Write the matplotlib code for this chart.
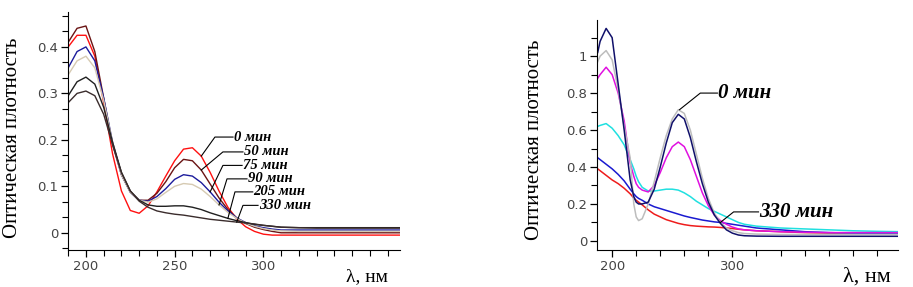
import numpy as np
import matplotlib
matplotlib.use("Agg")
import matplotlib.pyplot as plt
from matplotlib.ticker import MultipleLocator, AutoMinorLocator, FuncFormatter

# левая панель: спектры во времени
wl_a = [190, 195, 200, 205, 210, 215, 220, 225, 230, 235, 240, 245, 250, 255,
        260, 265, 270, 275, 280, 285, 290, 295, 300, 305, 310, 320, 330, 340,
        350, 360, 370, 377]
a_0 = [0.40, 0.425, 0.425, 0.38, 0.28, 0.17, 0.09, 0.048, 0.042, 0.058, 0.088,
       0.122, 0.155, 0.18, 0.183, 0.165, 0.13, 0.09, 0.055, 0.03, 0.013, 0.003,
       -0.003, -0.005, -0.005, -0.005, -0.005, -0.005, -0.005, -0.005, -0.005, -0.005]
a_50 = [0.41, 0.44, 0.445, 0.39, 0.29, 0.19, 0.125, 0.088, 0.07, 0.07, 0.085,
        0.11, 0.14, 0.158, 0.155, 0.135, 0.105, 0.075, 0.05, 0.032, 0.02, 0.012,
        0.007, 0.003, 0.0, 0.0, 0.0, 0.0, 0.0, 0.0, 0.0, 0.0]
a_75 = [0.355, 0.39, 0.40, 0.37, 0.29, 0.195, 0.125, 0.087, 0.07, 0.068, 0.078,
        0.095, 0.115, 0.125, 0.122, 0.108, 0.088, 0.066, 0.047, 0.032, 0.022,
        0.015, 0.011, 0.008, 0.006, 0.006, 0.006, 0.006, 0.006, 0.006, 0.006, 0.006]
a_90 = [0.34, 0.37, 0.38, 0.355, 0.285, 0.195, 0.125, 0.087, 0.07, 0.066, 0.073,
        0.087, 0.10, 0.106, 0.104, 0.094, 0.078, 0.06, 0.044, 0.031, 0.021, 0.014,
        0.009, 0.006, 0.004, 0.003, 0.003, 0.003, 0.003, 0.003, 0.003, 0.003]
a_205 = [0.295, 0.325, 0.335, 0.32, 0.27, 0.195, 0.13, 0.09, 0.07, 0.06, 0.057,
         0.057, 0.058, 0.058, 0.055, 0.05, 0.043, 0.037, 0.031, 0.026, 0.022,
         0.018, 0.016, 0.014, 0.012, 0.011, 0.011, 0.011, 0.011, 0.011, 0.011, 0.011]
a_330 = [0.28, 0.30, 0.305, 0.295, 0.255, 0.19, 0.13, 0.09, 0.068, 0.055, 0.047,
         0.043, 0.04, 0.038, 0.035, 0.032, 0.029, 0.027, 0.025, 0.023, 0.021,
         0.019, 0.016, 0.014, 0.012, 0.011, 0.01, 0.01, 0.01, 0.01, 0.01, 0.01]

series_a = [a_0, a_50, a_75, a_90, a_205, a_330]
colors_a = ["#ff1010", "#6a1414", "#1c1c9c", "#d6cab2", "#202020", "#3a2c2c"]
labels_a = ["0 мин", "50 мин", "75 мин", "90 мин", "205 мин", "330 мин"]
# подписи: x текста, y текста, x излома, x точки на кривой
lab_x_a = [282.9, 288.5, 288.0, 290.8, 294.0, 297.0]
lab_y_a = [0.206, 0.174, 0.145, 0.116, 0.088, 0.059]
elb_x_a = [272.7, 277.2, 277.2, 279.5, 284.0, 288.5]
pt_x_a = [265, 265, 270, 275, 280, 285]

# правая панель
wl_b = [188, 190, 195, 200, 205, 210, 215, 218, 220, 222, 225, 230, 235, 240,
        245, 250, 255, 260, 265, 270, 275, 280, 285, 290, 295, 300, 305, 310,
        320, 340, 360, 380, 400, 420, 438]
b_navy = [1.02, 1.08, 1.15, 1.10, 0.85, 0.60, 0.33, 0.24, 0.21, 0.20, 0.20, 0.21,
          0.28, 0.40, 0.53, 0.64, 0.685, 0.66, 0.56, 0.43, 0.31, 0.21, 0.14, 0.095,
          0.06, 0.042, 0.032, 0.028, 0.026, 0.025, 0.025, 0.025, 0.025, 0.025, 0.025]
b_gray = [0.97, 1.0, 1.03, 0.98, 0.82, 0.62, 0.45, 0.20, 0.13, 0.11, 0.12, 0.20,
          0.32, 0.45, 0.57, 0.66, 0.71, 0.69, 0.60, 0.47, 0.34, 0.23, 0.15, 0.10,
          0.07, 0.055, 0.045, 0.04, 0.037, 0.035, 0.035, 0.035, 0.035, 0.035, 0.035]
b_mag = [0.88, 0.90, 0.94, 0.90, 0.80, 0.65, 0.42, 0.35, 0.31, 0.29, 0.275, 0.265,
         0.30, 0.37, 0.45, 0.51, 0.535, 0.51, 0.44, 0.35, 0.26, 0.19, 0.14, 0.11,
         0.09, 0.075, 0.065, 0.06, 0.055, 0.05, 0.047, 0.045, 0.045, 0.045, 0.045]
b_cyan = [0.62, 0.625, 0.635, 0.61, 0.57, 0.52, 0.44, 0.39, 0.35, 0.32, 0.29, 0.27,
          0.27, 0.275, 0.28, 0.28, 0.275, 0.26, 0.24, 0.215, 0.195, 0.175, 0.16,
          0.145, 0.13, 0.115, 0.10, 0.09, 0.08, 0.07, 0.065, 0.06, 0.055, 0.052, 0.05]
b_blue = [0.45, 0.44, 0.415, 0.39, 0.36, 0.325, 0.28, 0.255, 0.24, 0.23, 0.22, 0.20,
          0.185, 0.175, 0.165, 0.155, 0.145, 0.135, 0.127, 0.12, 0.113, 0.108,
          0.103, 0.10, 0.095, 0.09, 0.085, 0.08, 0.07, 0.06, 0.05, 0.045, 0.042, 0.04, 0.04]
b_red = [0.39, 0.38, 0.355, 0.33, 0.31, 0.285, 0.255, 0.232, 0.22, 0.21, 0.195, 0.168,
         0.145, 0.13, 0.115, 0.105, 0.095, 0.088, 0.083, 0.08, 0.078, 0.076, 0.075,
         0.073, 0.07, 0.067, 0.063, 0.06, 0.055, 0.05, 0.045, 0.042, 0.04, 0.04, 0.04]

series_b = [b_red, b_blue, b_cyan, b_mag, b_gray, b_navy]
colors_b = ["#ee1c1c", "#1a1ad0", "#20e0e0", "#e010e0", "#bdbdbd", "#10106a"]

serif = "Liberation Serif"
tick_col = "#444444"

fig = plt.figure(figsize=(9.13, 2.87), dpi=100)
ax1 = fig.add_axes([0.0745, 0.129, 0.3636, 0.829])
ax2 = fig.add_axes([0.654, 0.129, 0.33, 0.801])

for s, c in zip(series_a, colors_a):
    ax1.plot(wl_a, s, color=c, lw=1.0)
for s, c in zip(series_b, colors_b):
    ax2.plot(wl_b, s, color=c, lw=1.1)

# подписи с выносками
for i, txt in enumerate(labels_a):
    s = series_a[i]
    py = s[wl_a.index(pt_x_a[i])]
    ax1.plot([pt_x_a[i], elb_x_a[i], lab_x_a[i]], [py, lab_y_a[i], lab_y_a[i]],
             color="black", lw=0.8)
    ax1.text(lab_x_a[i] + 0.5, lab_y_a[i], txt, ha="left", va="center",
             family=serif, fontsize=10.5, fontweight="bold", fontstyle="italic")

py0 = b_gray[wl_b.index(255)]
ax2.plot([256, 273.3, 287.5], [py0, 0.8, 0.8], color="black", lw=0.8)
ax2.text(288, 0.8, "0 мин", ha="left", va="center", family=serif,
         fontsize=15, fontweight="bold", fontstyle="italic")
py1 = b_blue[wl_b.index(290)]
ax2.plot([290, 301, 321.7], [py1, 0.157, 0.157], color="black", lw=0.8)
ax2.text(322, 0.157, "330 мин", ha="left", va="center", family=serif,
         fontsize=15, fontweight="bold", fontstyle="italic")

fmt = FuncFormatter(lambda v, p: "%g" % round(v, 2))

ax1.set_xlim(189.9, 377)
ax1.set_ylim(-0.037, 0.475)
ax1.set_xticks([200, 250, 300])
ax1.xaxis.set_minor_locator(MultipleLocator(10))
ax1.set_yticks([0, 0.1, 0.2, 0.3, 0.4])
ax1.yaxis.set_minor_locator(AutoMinorLocator(3))

ax2.set_xlim(187.5, 438)
ax2.set_ylim(-0.049, 1.195)
ax2.set_xticks([200, 300])
ax2.xaxis.set_minor_locator(MultipleLocator(20))
ax2.set_yticks([0, 0.2, 0.4, 0.6, 0.8, 1.0])
ax2.yaxis.set_minor_locator(AutoMinorLocator(2))

for ax in (ax1, ax2):
    ax.yaxis.set_major_formatter(fmt)
    ax.spines["top"].set_visible(False)
    ax.spines["right"].set_visible(False)
    ax.tick_params(which="major", length=5, width=0.9, direction="out",
                   labelsize=9.5, labelcolor=tick_col, pad=2)
    ax.tick_params(which="minor", length=4, width=0.8, direction="out")
    ax.set_ylabel("Оптическая плотность", family=serif, fontsize=15, labelpad=4)

ax1.yaxis.set_label_coords(-0.14, 0.47)
ax2.yaxis.set_label_coords(-0.175, 0.48)
ax1.text(0.964, -0.075, "λ, нм", transform=ax1.transAxes, ha="right", va="top",
         family=serif, fontsize=14)
ax2.text(0.973, -0.075, "λ, нм", transform=ax2.transAxes, ha="right", va="top",
         family=serif, fontsize=16)

fig.savefig("out.png", dpi=100)
